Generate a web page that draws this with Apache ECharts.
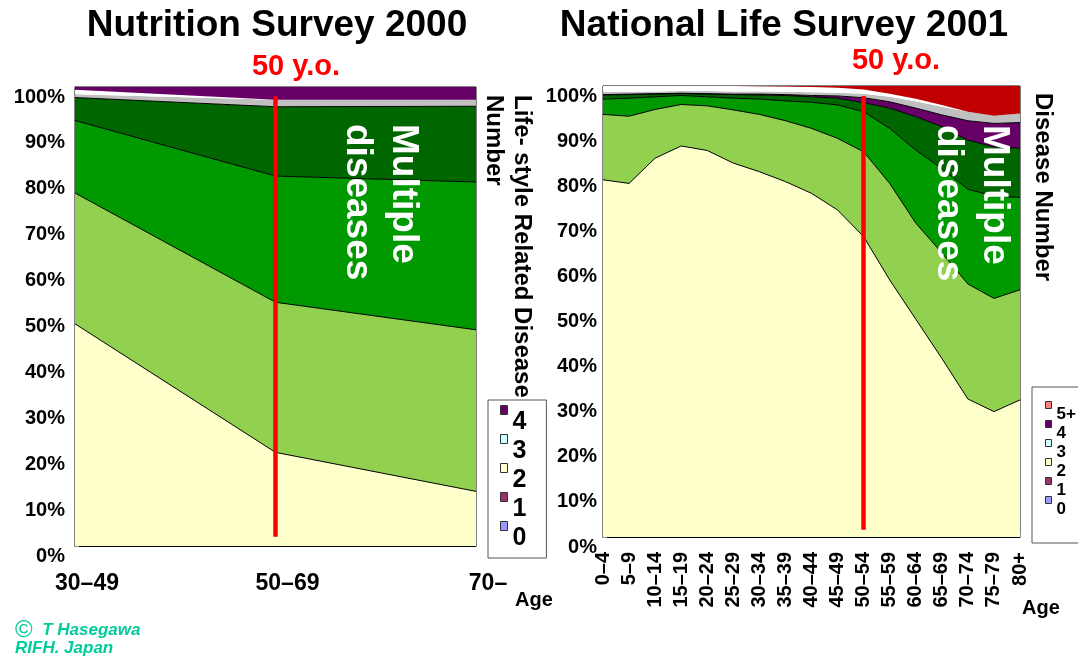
<!DOCTYPE html>
<html>
<head>
<meta charset="utf-8">
<script src="https://cdn.jsdelivr.net/npm/echarts@6/dist/echarts.min.js"></script>
<style>
  html, body { margin: 0; padding: 0; background: #fff; }
  #chart { width: 1078px; height: 662px; }
</style>
</head>
<body>
<div id="chart"></div>
<script>
// Nutrition Survey 2000 (share of people, %)
var nutAges = ['30–49', '50–69', '70–'];
var nut0 = [48.4, 20.4, 11.9];     // yellow
var nut1 = [28.5, 32.7, 35.2];     // light green
var nut2 = [15.8, 27.5, 32.2];     // green
var nut3 = [5.0, 15.1, 16.5];      // dark green
var nutGrey = [0.7, 1.5, 1.4];
var nutBlank = [1.0, 0, 0];
var nut4 = [0.6, 2.8, 2.8];        // purple

// National Life Survey 2001 (share of people, %)
var lifeAges = ['0–4', '5–9', '10–14', '15–19', '20–24', '25–29', '30–34', '35–39', '40–44',
  '45–49', '50–54', '55–59', '60–64', '65–69', '70–74', '75–79', '80+'];
var life0 = [79.2, 78.4, 84.0, 86.7, 85.7, 82.9, 81.0, 78.8, 76.2, 72.5, 66.6, 57.0, 48.3, 39.6, 30.6, 27.8, 30.4];
var life1 = [14.5, 14.9, 10.8, 9.2, 9.9, 11.8, 12.7, 13.5, 14.4, 15.9, 18.8, 21.4, 21.3, 23.4, 25.5, 25.1, 24.4];
var life2 = [3.4, 4.0, 2.8, 2.0, 2.0, 2.6, 3.4, 4.4, 5.8, 7.4, 8.9, 12.2, 16.2, 18.7, 21.0, 22.7, 20.5];
var life3 = [0.9, 0.8, 0.6, 0.4, 0.6, 0.8, 0.9, 1.2, 1.2, 1.5, 2.0, 4.5, 7.4, 9.3, 10.9, 10.9, 10.9];
var life4 = [0.1, 0.1, 0.1, 0.1, 0.1, 0.1, 0.2, 0.2, 0.3, 0.5, 1.1, 1.4, 1.9, 2.6, 4.3, 5.2, 5.7];
var lifeGrey = [0.6, 0.5, 0.5, 0.5, 0.6, 0.6, 0.6, 0.6, 0.7, 0.7, 0.9, 1.1, 1.5, 1.8, 2.0, 1.7, 2.0];
var lifeBlank = [1.3, 1.3, 1.2, 1.1, 1.1, 1.2, 1.15, 1.2, 1.2, 1.1, 0.9, 0.7, 0.6, 0.4, 0, 0, 0];
var life5 = [0, 0, 0, 0, 0, 0, 0.05, 0.1, 0.2, 0.4, 0.8, 1.7, 2.8, 4.2, 5.7, 6.6, 6.1];

var pctTicks = [0, 10, 20, 30, 40, 50, 60, 70, 80, 90, 100];

var FONT = '"Liberation Sans", Arial, sans-serif';
var C = {
  yellow: '#FFFFCC', light: '#92D050', green: '#009900', dark: '#006600',
  purple: '#660066', grey: '#C0C0C0', white: '#FFFFFF', red: '#C00000'
};

var chart = echarts.init(document.getElementById('chart'));

function area(name, data, color, idx, stack, lined, extra) {
  var s = {
    name: name, type: 'line', stack: stack, data: data,
    xAxisIndex: idx, yAxisIndex: idx,
    symbol: 'none', color: color,
    lineStyle: lined ? { color: '#000', width: 1 } : { width: 0 },
    areaStyle: { color: color, opacity: 1 },
    emphasis: { disabled: true }
  };
  return Object.assign(s, extra || {});
}

function redLine(cat, top, bottom) {
  return {
    markLine: {
      silent: true, symbol: ['none', 'none'], label: { show: false },
      lineStyle: { color: '#FF0000', width: 4.5, type: 'solid' },
      emphasis: { disabled: true },
      data: [[{ coord: [cat, top] }, { coord: [cat, bottom] }]]
    }
  };
}

// labels sit a little below their ticks, as in the original
function yAxis(idx, pad) {
  return {
    type: 'value', gridIndex: idx, min: 0, max: 100, interval: 10,
    axisLine: { show: true, lineStyle: { color: '#000', width: 1 } },
    axisTick: { show: true, inside: true, length: 4, lineStyle: { color: '#999' } },
    splitLine: { show: false },
    axisLabel: {
      formatter: function (v) { return pctTicks.indexOf(v) >= 0 ? v + '%' : ''; },
      color: '#000', fontFamily: FONT, fontWeight: 'bold', fontSize: 20,
      margin: pad, verticalAlign: 'top', lineHeight: 20
    }
  };
}

var legendTxt = function (size) {
  return { color: '#000', fontFamily: FONT, fontWeight: 'bold', fontSize: size };
};
var sw = function (name, color) {
  return { name: name, itemStyle: { color: color, borderColor: '#333', borderWidth: 1 } };
};

chart.setOption({
  animation: false,
  backgroundColor: '#fff',
  grid: [
    { left: 75, right: 602, top: 87, bottom: 116, show: true, borderColor: '#000', borderWidth: 1, backgroundColor: 'transparent' },
    { left: 603, right: 58, top: 86, bottom: 125, show: true, borderColor: '#000', borderWidth: 1, backgroundColor: 'transparent' }
  ],
  xAxis: [
    {
      type: 'category', gridIndex: 0, data: nutAges, boundaryGap: false,
      axisLine: { lineStyle: { color: '#000' } }, axisTick: { show: false },
      axisLabel: { color: '#000', fontFamily: FONT, fontWeight: 'bold', fontSize: 23, margin: 26, padding: [0, 0, 0, 24] },
      name: 'Age', nameLocation: 'end', nameGap: 39,
      nameTextStyle: { color: '#000', fontFamily: FONT, fontWeight: 'bold', fontSize: 20, align: 'left', verticalAlign: 'top', padding: [44, 0, 0, 0] }
    },
    {
      type: 'category', gridIndex: 1, data: lifeAges, boundaryGap: false,
      axisLine: { lineStyle: { color: '#000' } },
      axisTick: { show: true, inside: true, length: 4, lineStyle: { color: '#999' } },
      axisLabel: { color: '#000', fontFamily: FONT, fontWeight: 'bold', fontSize: 20, rotate: 90, margin: 15, interval: 0 },
      name: 'Age', nameLocation: 'end', nameGap: 2,
      nameTextStyle: { color: '#000', fontFamily: FONT, fontWeight: 'bold', fontSize: 20, align: 'left', verticalAlign: 'top', padding: [61, 0, 0, 0] }
    }
  ],
  yAxis: [yAxis(0, 10), yAxis(1, 6)],
  legend: [
    {
      left: 488, top: 400, orient: 'vertical', selectedMode: false,
      icon: 'path://M0,0H7V9H0ZM0,33L0,33', itemWidth: 7, itemHeight: 33, itemGap: -5,
      padding: [5, 20, 3, 12], backgroundColor: '#fff', borderColor: '#555', borderWidth: 1,
      textStyle: legendTxt(25),
      data: [sw('4', '#660066'), sw('3', '#CCFFFF'), sw('2', '#FFFFCC'), sw('1', '#993366'), sw('0', '#9999FF')]
    },
    {
      left: 1032, top: 387, orient: 'vertical', selectedMode: false,
      icon: 'path://M0,0H6V7H0ZM0,26L0,26', itemWidth: 6, itemHeight: 26, itemGap: -8,
      padding: [14, 40, 20, 13], backgroundColor: '#fff', borderColor: '#555', borderWidth: 1,
      textStyle: legendTxt(17),
      data: [sw('5+', '#FF8080'), sw('4', '#660066'), sw('3', '#CCFFFF'), sw('2', '#FFFFCC'), sw('1', '#993366'), sw('0', '#9999FF')]
    }
  ],
  series: [
    area('0', nut0, C.yellow, 0, 'nut', true, redLine('50–69', 98, 2)),
    area('1', nut1, C.light, 0, 'nut', true),
    area('2', nut2, C.green, 0, 'nut', true),
    area('3', nut3, C.dark, 0, 'nut', true),
    area('other', nutGrey, C.grey, 0, 'nut', false),
    area('blank', nutBlank, C.white, 0, 'nut', false),
    area('4', nut4, C.purple, 0, 'nut', false),

    area('0', life0, C.yellow, 1, 'life', true, redLine('50–54', 97.8, 1.6)),
    area('1', life1, C.light, 1, 'life', true),
    area('2', life2, C.green, 1, 'life', true),
    area('3', life3, C.dark, 1, 'life', true),
    area('4', life4, C.purple, 1, 'life', true),
    area('other', lifeGrey, C.grey, 1, 'life', false),
    area('blank', lifeBlank, C.white, 1, 'life', false),
    area('5+', life5, C.red, 1, 'life', false)
  ],
  graphic: [
    { type: 'text', x: 277, y: 26, style: { text: 'Nutrition Survey 2000', fill: '#000', font: 'bold 37px ' + FONT, textAlign: 'center', textVerticalAlign: 'middle' } },
    { type: 'text', x: 784, y: 26, style: { text: 'National Life Survey 2001', fill: '#000', font: 'bold 37px ' + FONT, textAlign: 'center', textVerticalAlign: 'middle' } },
    { type: 'text', x: 296, y: 67, style: { text: '50 y.o.', fill: '#FF0000', font: 'bold 29px ' + FONT, textAlign: 'center', textVerticalAlign: 'middle' } },
    { type: 'text', x: 896, y: 61, style: { text: '50 y.o.', fill: '#FF0000', font: 'bold 29px ' + FONT, textAlign: 'center', textVerticalAlign: 'middle' } },
    { type: 'text', x: 380, y: 124, rotation: -Math.PI / 2, z: 10,
      style: { text: 'Multiple\ndiseases', fill: '#fff', font: 'bold 37px ' + FONT, lineHeight: 46, textAlign: 'left', textVerticalAlign: 'middle' } },
    { type: 'text', x: 971, y: 125, rotation: -Math.PI / 2, z: 10,
      style: { text: 'Multiple\ndiseases', fill: '#fff', font: 'bold 37px ' + FONT, lineHeight: 46, textAlign: 'left', textVerticalAlign: 'middle' } },
    { type: 'text', x: 508, y: 95, rotation: -Math.PI / 2,
      style: { text: 'Life- style Related Disease\nNumber', fill: '#000', font: 'bold 24px ' + FONT, lineHeight: 28, textAlign: 'left', textVerticalAlign: 'middle' } },
    { type: 'text', x: 1043, y: 93, rotation: -Math.PI / 2,
      style: { text: 'Disease Number', fill: '#000', font: 'bold 24px ' + FONT, textAlign: 'left', textVerticalAlign: 'middle' } },
    { type: 'text', x: 15, y: 630,
      style: { text: '{c|©}  T Hasegawa', fill: '#00CC99', font: 'italic bold 17px ' + FONT, textVerticalAlign: 'middle',
        rich: { c: { fontSize: 24, fontStyle: 'normal', fill: '#00CC99' } } } },
    { type: 'text', x: 15, y: 648,
      style: { text: 'RIFH. Japan', fill: '#00CC99', font: 'italic bold 17px ' + FONT, textVerticalAlign: 'middle' } }
  ]
});
</script>
</body>
</html>
